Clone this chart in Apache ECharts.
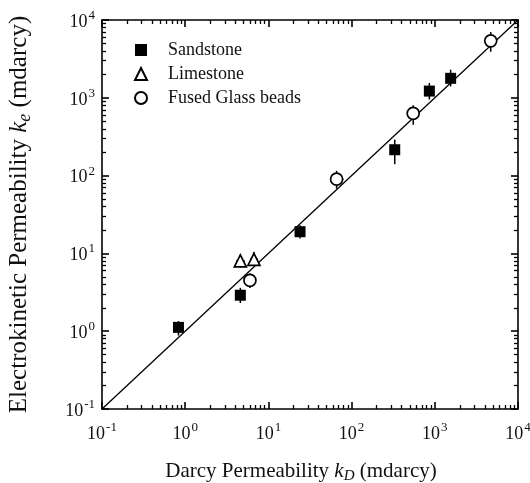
<!DOCTYPE html>
<html>
<head>
<meta charset="utf-8">
<script src="https://cdn.jsdelivr.net/npm/echarts@6/dist/echarts.min.js"></script>
<style>
  html, body { margin: 0; padding: 0; background: #fff; }
  #chart { width: 530px; height: 483px; }
</style>
</head>
<body>
<div id="chart"></div>
<script>
// 数据: [Darcy k_D, 电动 k_e]
const sandstone = [[0.83, 1.12], [4.6, 2.9], [24, 19], [330, 215], [860, 1220], [1550, 1780]];
const limestone = [[4.6, 8.0], [6.7, 8.4]];
const glassBeads = [[6.0, 4.5], [66, 90], [550, 630], [4700, 5400]];
// 误差范围 [xLo, xHi, yLo, yHi]
const sandstoneErr = [[0.75, 0.92, 0.88, 1.35], [4.1, 5.2, 2.3, 3.6], [21, 27, 15.5, 23], [290, 380, 140, 290], [770, 960, 950, 1550], [1380, 1750, 1400, 2300]];
const limestoneErr = [[4.1, 5.2, 6.6, 9.6], [6.0, 7.5, 6.9, 10.4]];
const glassErr = [[5.4, 6.7, 3.6, 5.5], [55, 80, 68, 115], [490, 620, 450, 800], [4200, 5300, 3900, 7000]];
const fitLine = [[0.1, 0.1], [10000, 10000]];
const axisMin = 0.1, axisMax = 10000;

const chart = echarts.init(document.getElementById('chart'));

const serif = 'Liberation Serif';
const ink = '#111';

const tickLabel = {
  fontFamily: serif,
  color: ink,
  formatter: v => '{b|10}{s|' + Math.round(Math.log10(v)) + '}',
  rich: {
    b: { fontSize: 18, fontFamily: serif, color: ink, verticalAlign: 'bottom' },
    s: { fontSize: 13, fontFamily: serif, color: ink, verticalAlign: 'bottom', padding: [0, 0, 9, 1] }
  }
};

const baseAxis = {
  type: 'log',
  logBase: 10,
  min: axisMin,
  max: axisMax,
  axisLine: { show: true, lineStyle: { color: '#000', width: 1.6 } },
  axisTick: { show: true, inside: true, length: 7, lineStyle: { color: '#000', width: 1.6 } },
  minorTick: { show: true, splitNumber: 9, length: 4, lineStyle: { color: '#000', width: 1.3 } },
  splitLine: { show: false },
  minorSplitLine: { show: false }
};

function titleRich(size) {
  return {
    t: { fontFamily: serif, fontSize: size, color: ink },
    i: { fontFamily: serif, fontSize: size, fontStyle: 'italic', color: ink },
    sub: { fontFamily: serif, fontSize: Math.round(size * 0.7), fontStyle: 'italic', color: ink, padding: [size * 0.45, 0, 0, 0] }
  };
}

// 误差棒
function errRender(errs) {
  return function (params, api) {
    const e = errs[params.dataIndex];
    const x = api.value(0), y = api.value(1);
    const pL = api.coord([e[0], y]), pR = api.coord([e[1], y]);
    const pB = api.coord([x, e[2]]), pT = api.coord([x, e[3]]);
    const style = { stroke: '#000', lineWidth: 1.5 };
    return {
      type: 'group',
      children: [
        { type: 'line', shape: { x1: pL[0], y1: pL[1], x2: pR[0], y2: pR[1] }, style },
        { type: 'line', shape: { x1: pB[0], y1: pB[1], x2: pT[0], y2: pT[1] }, style }
      ]
    };
  };
}

const option = {
  animation: false,
  backgroundColor: '#fff',
  grid: { left: 102, right: 12, top: 20, bottom: 74, containLabel: false, outerBoundsMode: 'none' },
  legend: {
    left: 129,
    top: 36,
    orient: 'vertical',
    itemWidth: 12,
    itemHeight: 12,
    itemGap: 6,
    data: ['Sandstone', 'Limestone', 'Fused Glass beads'],
    textStyle: { fontFamily: serif, fontSize: 18, lineHeight: 18, color: ink, padding: [0, 0, 0, 16] }
  },
  xAxis: [
    Object.assign({}, baseAxis, {
      position: 'bottom',
      axisLabel: Object.assign({ margin: 12 }, tickLabel),
      name: '{t|Darcy Permeability }{i|k}{sub|D}{t| (mdarcy)}',
      nameLocation: 'middle',
      nameGap: 50,
      nameTextStyle: { rich: titleRich(21), padding: [0, 18, 0, 0] }
    }),
    Object.assign({}, baseAxis, { position: 'top', axisLabel: { show: false } })
  ],
  yAxis: [
    Object.assign({}, baseAxis, {
      position: 'left',
      axisLabel: Object.assign({ margin: 7 }, tickLabel),
      name: '{t|Electrokinetic Permeability }{i|k}{sub|e}{t| (mdarcy)}',
      nameLocation: 'middle',
      nameGap: 68,
      nameTextStyle: { rich: titleRich(25) }
    }),
    Object.assign({}, baseAxis, { position: 'right', axisLabel: { show: false } })
  ],
  series: [
    {
      name: 'fit',
      type: 'line',
      data: fitLine,
      symbol: 'none',
      lineStyle: { color: '#000', width: 1.3 },
      silent: true,
      z: 1
    },
    { type: 'custom', data: sandstone, renderItem: errRender(sandstoneErr), z: 2, silent: true },
    { type: 'custom', data: limestone, renderItem: errRender(limestoneErr), z: 2, silent: true },
    { type: 'custom', data: glassBeads, renderItem: errRender(glassErr), z: 2, silent: true },
    {
      name: 'Sandstone',
      type: 'scatter',
      data: sandstone,
      symbol: 'rect',
      symbolSize: 11,
      itemStyle: { color: '#000', opacity: 1 },
      z: 3
    },
    {
      name: 'Limestone',
      type: 'scatter',
      data: limestone,
      symbol: 'triangle',
      symbolSize: 12,
      itemStyle: { color: '#fff', borderColor: '#000', borderWidth: 1.7, opacity: 1 },
      z: 3
    },
    {
      name: 'Fused Glass beads',
      type: 'scatter',
      data: glassBeads,
      symbol: 'circle',
      symbolSize: 12,
      itemStyle: { color: '#fff', borderColor: '#000', borderWidth: 1.7, opacity: 1 },
      z: 3
    }
  ]
};

chart.setOption(option);
</script>
</body>
</html>
